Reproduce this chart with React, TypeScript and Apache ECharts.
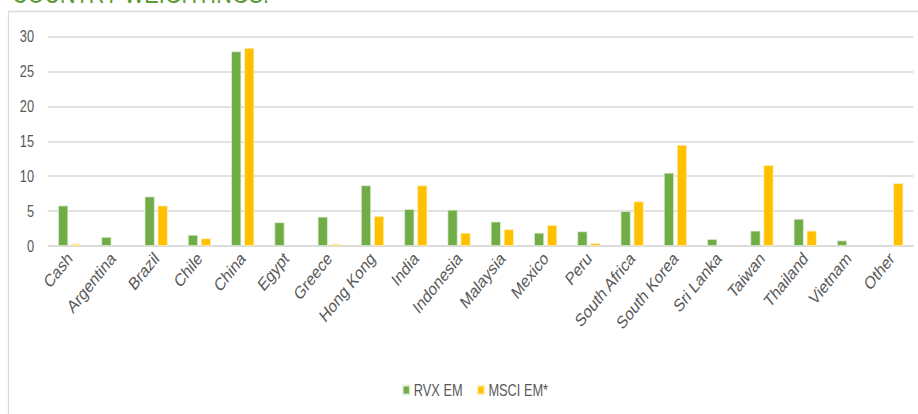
import React, { useEffect, useRef } from "react";
import * as echarts from "echarts";

const categories = [
  "Cash", "Argentina", "Brazil", "Chile", "China", "Egypt", "Greece", "Hong Kong",
  "India", "Indonesia", "Malaysia", "Mexico", "Peru", "South Africa", "South Korea",
  "Sri Lanka", "Taiwan", "Thailand", "Vietnam", "Other",
];

// Portfolio weights (%) by country; null where the series holds nothing
const rvxEm = [5.8, 1.3, 7.1, 1.6, 27.9, 3.4, 4.2, 8.7, 5.3, 5.2, 3.5, 1.9, 2.1, 5.0, 10.5, 1.0, 2.2, 3.9, 0.8, null];
const msciEm = [0.3, null, 5.8, 1.1, 28.4, null, 0.3, 4.3, 8.7, 1.9, 2.4, 3.0, 0.4, 6.4, 14.5, null, 11.6, 2.2, null, 9.0];

const yTicks = { min: 0, max: 30, interval: 5 };

const FONT = "'Liberation Sans', Arial, sans-serif";

// The chart is laid out on a wider canvas and narrowed horizontally,
// giving the condensed lettering of the original report.
const SX = 0.8;
const W = 918;
const H = 414;
const u = (px: number) => px / SX;

export default function App() {
  const ref = useRef<HTMLDivElement>(null);

  useEffect(() => {
    if (!ref.current) return;
    const chart = echarts.init(ref.current, null, { renderer: "svg" });
    chart.setOption({
      animation: false,
      backgroundColor: "#ffffff",
      textStyle: { fontFamily: FONT },
      graphic: [
        {
          type: "rect",
          shape: { x: u(8.5), y: 11.5, width: u(W), height: H },
          style: { fill: "none", stroke: "#d9d9d9", lineWidth: 1.5 },
          silent: true,
        },
        {
          type: "text",
          x: u(12),
          y: -6,
          style: {
            text: "COUNTRY WEIGHTINGS:",
            fill: "#5e9a35",
            font: `27px ${FONT}`,
            verticalAlign: "middle",
          },
          silent: true,
        },
      ],
      legend: {
        data: ["RVX EM", "MSCI EM*"],
        left: u(398),
        top: 377,
        itemWidth: u(7),
        itemHeight: 9,
        itemGap: u(14),
        icon: "rect",
        textStyle: { color: "#595959", fontSize: 16, fontFamily: FONT },
      },
      grid: { left: u(48), right: u(5), top: 36.7, bottom: 168, containLabel: false },
      xAxis: {
        type: "category",
        data: categories,
        axisTick: { show: false },
        axisLine: { lineStyle: { color: "#d9d9d9", width: 1.5 } },
        axisLabel: {
          rotate: 45,
          color: "#595959",
          fontSize: 18,
          fontFamily: FONT,
          interval: 0,
          margin: 9,
        },
      },
      yAxis: {
        type: "value",
        min: yTicks.min,
        max: yTicks.max,
        interval: yTicks.interval,
        axisLine: { show: false },
        axisTick: { show: false },
        axisLabel: { color: "#595959", fontSize: 16, fontFamily: FONT, margin: u(14) },
        splitLine: { lineStyle: { color: "#d9d9d9", width: 1.5 } },
      },
      series: [
        {
          name: "RVX EM",
          type: "bar",
          data: rvxEm,
          barWidth: u(10),
          barGap: "30%",
          itemStyle: { color: "#70ad47", borderColor: "#e6f0de", borderWidth: 0.8 },
        },
        {
          name: "MSCI EM*",
          type: "bar",
          data: msciEm,
          barWidth: u(10),
          itemStyle: { color: "#ffc000", borderColor: "#fff2c8", borderWidth: 0.8 },
        },
      ],
    });
    return () => chart.dispose();
  }, []);

  return (
    <div style={{ position: "fixed", left: 0, top: 0, width: W, height: H, overflow: "hidden", background: "#fff" }}>
      <div
        ref={ref}
        style={{
          width: u(W),
          height: H,
          transform: `scaleX(${SX})`,
          transformOrigin: "0 0",
        }}
      />
    </div>
  );
}
